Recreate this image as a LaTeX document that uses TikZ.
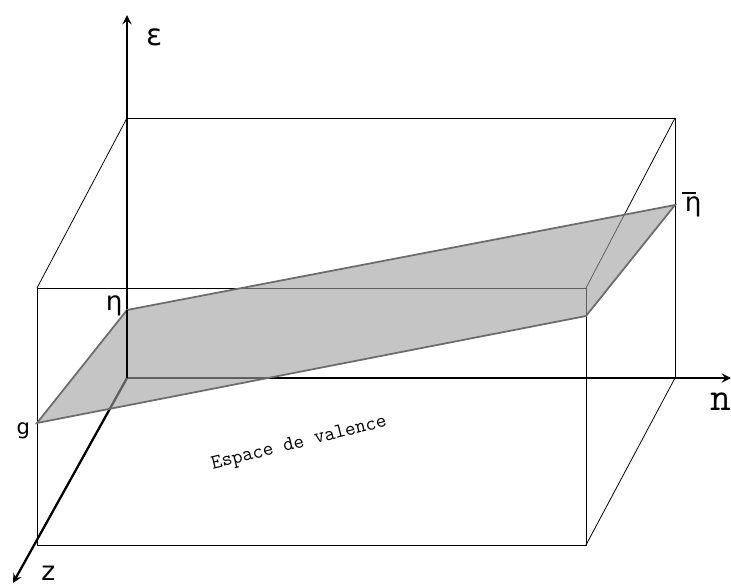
\documentclass[tikz,border=0pt]{standalone}
\usepackage{fontspec}
\newfontfamily\dvs{DejaVu Sans}
\usepackage{tikz}
\usetikzlibrary{arrows}
\usetikzlibrary{calc}
\tikzset{arete/.style={black,line width=0.45pt}}
\tikzset{axe/.style={black,line width=1.3pt,->,>=stealth}}
\tikzset{plan/.style={fill=gray!75,fill opacity=0.6,draw=gray!85!black,draw opacity=1,line width=1pt}}
\def\gr{\dvs}
\newcommand{\lab}[1]{\fontsize{#1}{#1}\selectfont}

\begin{document}
\begin{tikzpicture}[x=0.02cm,y=-0.02cm]
				\useasboundingbox (0,0) rectangle (731,585);
				% coins de la boite
				\coordinate (O) at (127,378);
				\coordinate (B1) at (127,118);
				\coordinate (B2) at (675,118);
				\coordinate (B3) at (675,378);
				\coordinate (F1) at (37,288);
				\coordinate (F2) at (586,288);
				\coordinate (F3) at (586,545);
				\coordinate (F4) at (37,545);
				% sommets du plan
				\coordinate (g) at (37,423);
				\coordinate (A) at (586,316);
				\coordinate (eb) at (675,205);
				\coordinate (e) at (127,310);
				\draw[arete] (F1)--(F2)--(F3)--(F4)--cycle;
				\draw[arete] (B1)--(B2)--(B3);
				\draw[arete] (F1)--(B1) (F2)--(B2) (F3)--(B3);
				% axes
				\draw[axe] (O)--(127,15);
				\draw[axe] (O)--(731,378);
				\draw[axe] (O)--(13,583);
				% plan
				\draw[plan] (g)--(A)--(eb)--(e)--cycle;
				\draw[black,line width=1.3pt] (O)--(e);
				\node at (150,37) {\gr\lab{17} ε};
				\node[anchor=base] at (110,310) {\gr\lab{15} η};
				\node[anchor=base] (etab) at (689,211) {\gr\lab{15} η};
				\draw[line width=0.9pt] ($(etab.base)+(-7,-18)$)--($(etab.base)+(7,-18)$);
				\node[anchor=base] at (20,434) {\gr\lab{12} g};
				\node[anchor=base] at (710,410) {\ttfamily\lab{23} n};
				%\node[blue] at (44,582) {z};
				\node[anchor=base] at (44,580) {\gr\lab{15} z};
				\node[anchor=base,rotate=14] at (295,449) {\ttfamily\lab{11.7} Espace de valence};
			\end{tikzpicture}
\end{document}
